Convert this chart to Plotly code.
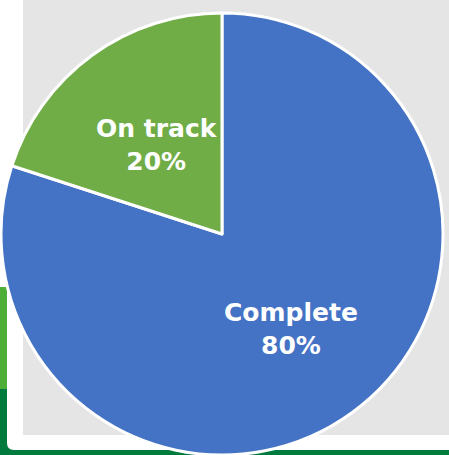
import math
import plotly.graph_objects as go

labels = ["Complete", "On track"]
values = [80, 20]
colors = ["#4472C4", "#70AD47"]

W, H = 449, 455
cx, cy, r = 222, 234, 221  # pixel geometry of the pie

fig = go.Figure(go.Pie(
    labels=labels,
    values=values,
    sort=False,
    direction="clockwise",
    rotation=0,
    marker=dict(colors=colors, line=dict(color="white", width=3)),
    textinfo="none",
    domain=dict(x=[(cx - r) / W, (cx + r) / W], y=[(H - cy - r) / H, (H - cy + r) / H]),
    showlegend=False,
    hoverinfo="skip",
))

# labels placed along each slice's bisector
total = sum(values)
annotations = []
start = 0.0
label_r = [0.53, 0.50]
for lab, v, fr in zip(labels, values, label_r):
    mid = (start + v / 2) / total * 2 * math.pi  # clockwise from 12 o'clock
    start += v
    x = cx + fr * r * math.sin(mid)
    y = cy - fr * r * math.cos(mid)
    annotations.append(dict(
        x=x / W, y=1 - y / H, xref="paper", yref="paper",
        text=f"{lab}<br>{round(100 * v / total)}%",
        showarrow=False, xanchor="center", yanchor="middle",
        font=dict(family="DejaVu Sans", size=25, color="white", weight="bold"),
    ))

def px_rect(x0, y0, x1, y1, color, layer="below"):
    return dict(type="rect", xref="paper", yref="paper",
                x0=x0 / W, x1=x1 / W, y0=1 - y1 / H, y1=1 - y0 / H,
                fillcolor=color, line=dict(width=0), layer=layer)

def px(x, y):
    return f"{x / W:.5f},{1 - y / H:.5f}"

rc = 7
frame_path = (f"M {px(7, 0)} L {px(449, 0)} L {px(449, 450)} L {px(7 + rc, 450)} "
              f"Q {px(7, 450)} {px(7, 450 - rc)} Z")

shapes = [
    px_rect(0, 287, 7, 390, "#4DAF38"),
    px_rect(0, 389, 7, 455, "#007A3D"),
    px_rect(0, 440, 449, 455, "#007A3D"),
    dict(type="path", xref="paper", yref="paper", path=frame_path,
         fillcolor="white", line=dict(width=0), layer="below"),
    px_rect(23, 0, 449, 435, "#E5E5E5"),
]

fig.update_layout(
    width=W, height=H,
    margin=dict(l=0, r=0, t=0, b=0),
    paper_bgcolor="white",
    plot_bgcolor="white",
    shapes=shapes,
    annotations=annotations,
)

fig.write_html(
    "out.html",
    config={"displayModeBar": False},
    post_script="document.body.style.margin='0';document.body.style.overflow='hidden';",
)
